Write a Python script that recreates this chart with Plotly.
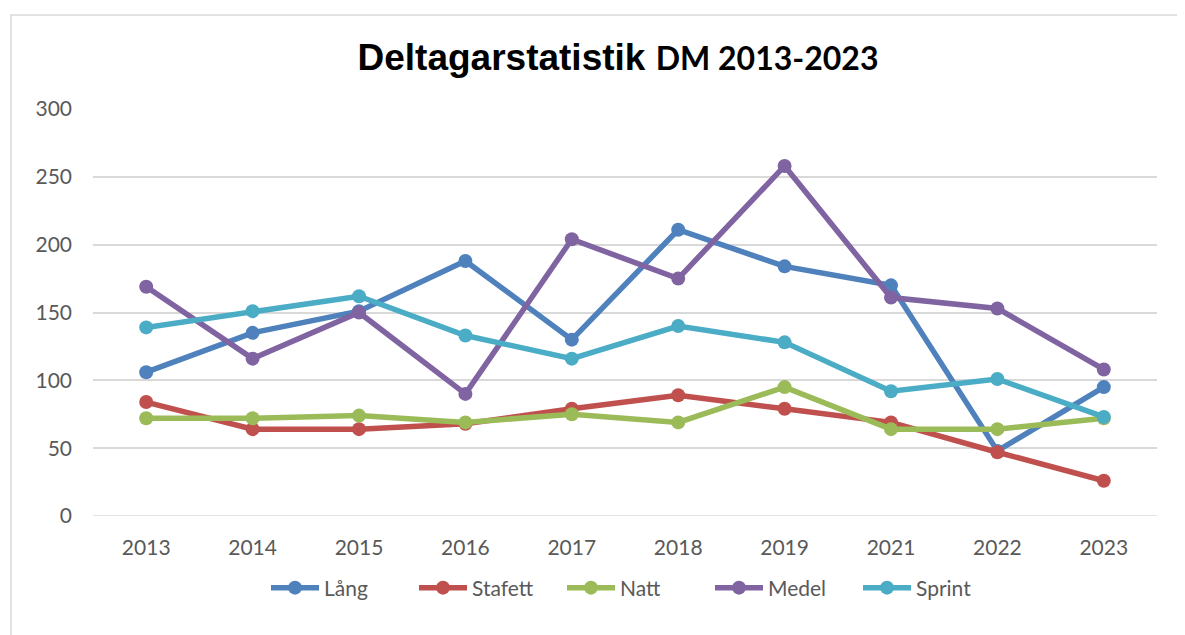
import plotly.graph_objects as go

years = ["2013", "2014", "2015", "2016", "2017", "2018", "2019", "2021", "2022", "2023"]
lang = [106, 135, 151, 188, 130, 211, 184, 170, 48, 95]
stafett = [84, 64, 64, 68, 79, 89, 79, 69, 47, 26]
natt = [72, 72, 74, 69, 75, 69, 95, 64, 64, 72]
medel = [169, 116, 150, 90, 204, 175, 258, 161, 153, 108]
sprint = [139, 151, 162, 133, 116, 140, 128, 92, 101, 73]

series = [
    ("Lång", lang, "#4F81BD"),
    ("Stafett", stafett, "#C0504D"),
    ("Natt", natt, "#9BBB59"),
    ("Medel", medel, "#8064A2"),
    ("Sprint", sprint, "#4BACC6"),
]

fig = go.Figure()
for name, vals, col in series:
    fig.add_trace(go.Scatter(
        x=years, y=vals, name=name, mode="lines+markers",
        line=dict(color=col, width=5.5),
        marker=dict(color=col, size=14),
    ))

OFF = 8  # page body margin
W, H = 1185 - OFF, 635 - OFF
ml, mt = 93 - OFF, 109 - OFF
mr = W - (1157 - OFF)
mb = H - (516 - OFF)
pw, ph = W - ml - mr, H - mt - mb

def px_x(x):
    return (x - 93) / pw

def px_y(y):
    return (516 - y) / ph

fig.update_layout(
    width=W, height=H,
    margin=dict(l=ml, r=mr, t=mt, b=mb, pad=0),
    paper_bgcolor="white", plot_bgcolor="white",
    font=dict(family="Lato", size=21, color="#595959"),
    title=dict(
        text="<b>Deltagarstatistik</b> <span style='font-family:Lato;font-size:32px'><b>DM 2013-2023</b></span>",
        font=dict(family="Liberation Sans", size=37, color="black"),
        x=(618 - OFF) / W, xref="container", xanchor="center",
        y=1 - (57 - OFF) / H, yref="container", yanchor="middle",
    ),
    xaxis=dict(
        type="category", range=[-0.5, len(years) - 0.5],
        showgrid=False, showline=False, zeroline=False,
        ticks="", ticklabelstandoff=17,
        tickfont=dict(family="Lato", size=21, color="#595959"),
    ),
    yaxis=dict(
        range=[0, 300], dtick=50, showgrid=True, gridcolor="#D9D9D9", gridwidth=1.5,
        zeroline=False, showline=False, ticks="", ticklabelstandoff=20,
        tickfont=dict(family="Lato", size=21, color="#595959"),
    ),
    showlegend=True,
    legend=dict(
        orientation="h", x=px_x(636), xanchor="center",
        y=px_y(588), yanchor="middle",
        font=dict(family="Lato", size=21, color="#595959"),
        itemwidth=48, tracegroupgap=0, entrywidth=85,
    ),
    shapes=[dict(
        type="rect", xref="paper", yref="paper",
        x0=px_x(11), x1=px_x(1184),
        y0=px_y(660), y1=px_y(15),
        line=dict(color="#D9D9D9", width=1.5), fillcolor="rgba(0,0,0,0)",
        layer="below",
    ), dict(
        type="line", xref="paper", yref="y",
        x0=0, x1=1, y0=0, y1=0,
        line=dict(color="#D9D9D9", width=1.5), layer="below",
    )],
)

fig.write_html("out.html")
